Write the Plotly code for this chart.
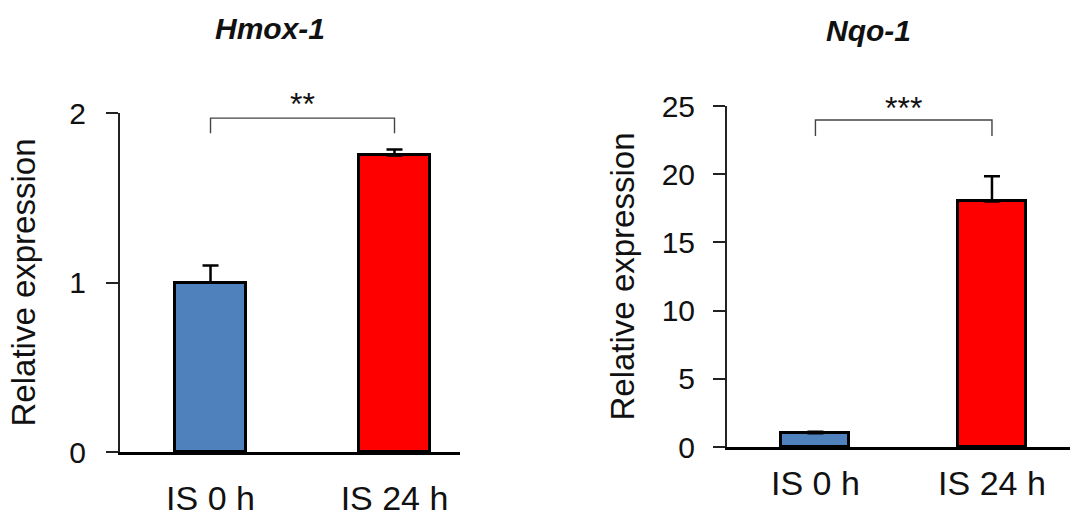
import plotly.graph_objects as go

# ---- data ----
categories = ["IS 0 h", "IS 24 h"]
hmox_values = [1.0, 1.75]
hmox_errors = [0.1, 0.035]
nqo_values = [1.0, 18.0]
nqo_errors = [0.12, 1.85]
bar_colors = ["#4F81BD", "#FF0000"]
hmox_ticks = [0, 1, 2]
nqo_ticks = [0, 5, 10, 15, 20, 25]
hmox_sig = "**"
nqo_sig = "***"
hmox_bracket = [1.97, 1.88]   # top, leg bottom
nqo_bracket = [23.97, 22.8]

W, H = 1071, 521
FONT = "Arial, Liberation Sans, sans-serif"

fig = go.Figure()

fig.add_trace(go.Bar(
    x=[0, 1], y=hmox_values, width=0.39,
    marker=dict(color=bar_colors, line=dict(color="black", width=3)),
    error_y=dict(type="data", symmetric=False, array=hmox_errors, arrayminus=[0, 0],
                 color="black", thickness=2.5, width=8),
    xaxis="x", yaxis="y", showlegend=False, hoverinfo="skip"))

fig.add_trace(go.Bar(
    x=[0, 1], y=nqo_values, width=0.385,
    marker=dict(color=bar_colors, line=dict(color="black", width=3)),
    error_y=dict(type="data", symmetric=False, array=nqo_errors, arrayminus=[0, 0],
                 color="black", thickness=2.5, width=8),
    xaxis="x2", yaxis="y2", showlegend=False, hoverinfo="skip"))

def px_x(p):
    return p / W

def px_y(p):
    return 1 - p / H

common_x = dict(showgrid=False, zeroline=False, showline=True, linecolor="black", linewidth=2.5,
                ticks="", tickmode="array", tickvals=[0, 1], ticktext=categories, automargin=False,
                tickfont=dict(family=FONT, size=34, color="#111"))
common_y = dict(showgrid=False, zeroline=False, showline=True, linecolor="#222", linewidth=2,
                ticks="outside", ticklen=12, tickwidth=2, tickcolor="#222", automargin=False,
                tickfont=dict(family=FONT, size=30, color="#111"),
                title=dict(text="Relative expression", font=dict(family=FONT, size=33, color="#111")))

fig.update_layout(
    width=W, height=H, margin=dict(l=0, r=0, t=0, b=0, autoexpand=False),
    paper_bgcolor="white", plot_bgcolor="white",
    bargap=0,
    xaxis=dict(common_x, domain=[px_x(120), px_x(460)], range=[-0.492, 1.356], anchor="y",
               ticklabelstandoff=14),
    yaxis=dict(common_y, domain=[px_y(452), px_y(113)], range=[0, 2], anchor="x",
               tickvals=hmox_ticks, ticklabelstandoff=14, title_standoff=24),
    xaxis2=dict(common_x, domain=[px_x(727), px_x(1070)], range=[-0.501, 1.442], anchor="y2",
                ticklabelstandoff=4),
    yaxis2=dict(common_y, domain=[px_y(447), px_y(106)], range=[0, 25], anchor="x2",
                tickvals=nqo_ticks, ticklabelstandoff=12, title_standoff=17),
)

# brackets
for xr, yr, br in [("x", "y", hmox_bracket), ("x2", "y2", nqo_bracket)]:
    fig.add_shape(type="path", xref=xr, yref=yr,
                  path=f"M 0 {br[1]} L 0 {br[0]} L 1 {br[0]} L 1 {br[1]}",
                  line=dict(color="#444", width=1.4))

# significance stars: anchored at the bracket top, shifted upward
fig.add_annotation(x=0.5, y=hmox_bracket[0], xref="x", yref="y", text=hmox_sig, showarrow=False,
                   font=dict(family=FONT, size=32, color="#111"), xanchor="center",
                   yanchor="middle", yshift=14)
fig.add_annotation(x=0.5, y=nqo_bracket[0], xref="x2", yref="y2", text=nqo_sig, showarrow=False,
                   font=dict(family=FONT, size=32, color="#111"), xanchor="center",
                   yanchor="middle", yshift=12)

# panel titles
fig.add_annotation(x=px_x(270), y=px_y(29), xref="paper", yref="paper", text="<b><i>Hmox-1</i></b>",
                   showarrow=False, font=dict(family=FONT, size=30, color="#111"),
                   xanchor="center", yanchor="middle")
fig.add_annotation(x=px_x(868), y=px_y(31), xref="paper", yref="paper", text="<b><i>Nqo-1</i></b>",
                   showarrow=False, font=dict(family=FONT, size=30, color="#111"),
                   xanchor="center", yanchor="middle")

fig.write_html("out.html")
